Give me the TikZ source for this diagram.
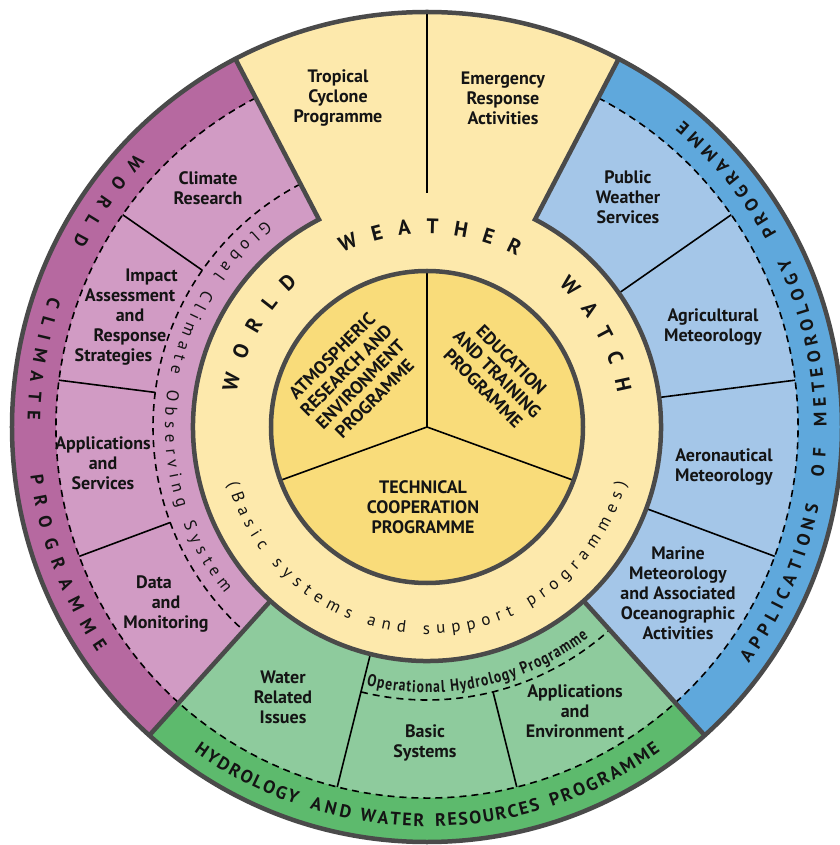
\documentclass[tikz,border=0pt]{standalone}
\usepackage{fontspec}
\setmainfont{PT Sans}
\newfontfamily\narrowfont{PT Sans}[FakeStretch=0.8]
\usetikzlibrary{decorations.text}

\definecolor{wwwcream}{HTML}{FDE9AC}
\definecolor{wwwgold}{HTML}{F9DC7A}
\definecolor{wcpdark}{HTML}{B669A0}
\definecolor{wcplight}{HTML}{D19BC4}
\definecolor{amplight}{HTML}{A4C6E8}
\definecolor{ampdark}{HTML}{5FA8DC}
\definecolor{hwrlight}{HTML}{8ECB9D}
\definecolor{hwrdark}{HTML}{5DBA6D}
\definecolor{rimgray}{HTML}{4A4A4A}
\definecolor{ink}{HTML}{141414}

\newcommand{\lblfont}{\bfseries\fontsize{18}{20}\selectfont}
\newcommand{\corefont}{\bfseries\fontsize{18}{20}\selectfont}
\newcommand{\bandfont}{\bfseries\fontsize{18}{20}\selectfont}
\newcommand{\wwwfont}{\bfseries\fontsize{21}{24}\selectfont}
\newcommand{\ringfont}{\fontsize{17}{18}\selectfont}
\newcommand{\gcosfont}{\fontsize{17}{18}\selectfont}
\newcommand{\ohpfont}{\narrowfont\bfseries\fontsize{17}{18}\selectfont}

% filled ring sector: colour, from, to, inner radius, outer radius
\newcommand{\annsector}[5]{\fill[#1] (#2:#4) -- (#2:#5) arc[start angle=#2,end angle=#3,radius=#5] -- (#3:#4) arc[start angle=#3,end angle=#2,radius=#4] -- cycle;}

% text along an arc: radius, from, to, font, text
\newcommand{\arcword}[5]{\path[decorate,decoration={text along path,text align=fit to path,text color=ink,text={|#4|#5}}] (#2:#1) arc[start angle=#2,end angle=#3,radius=#1];}

\begin{document}
\begin{tikzpicture}[x=1pt,y=1pt,
  rim/.style={draw=rimgray,line width=4.5pt},
  divider/.style={draw=black,line width=1.6pt},
  dashline/.style={draw=black,line width=1.6pt,dash pattern=on 7pt off 5pt},
  sectorlbl/.style={font=\lblfont,align=center,text=ink,inner sep=0pt},
  corelbl/.style={font=\corefont,align=center,text=ink,inner sep=0pt}]
\useasboundingbox (-427,-418) rectangle (412,427);

% fills
\fill[wwwcream] (0,0) circle[radius=234];
\fill[wwwcream] (62.5:234) -- (62.5:415) arc[start angle=62.5,end angle=117.5,radius=415] -- (117.5:234) -- cycle;
\annsector{wcplight}{117.5}{228}{234}{415}
\annsector{wcpdark}{117.5}{228}{371}{415}
\annsector{amplight}{-48}{62.5}{234}{415}
\annsector{ampdark}{-48}{62.5}{371}{415}
\annsector{hwrlight}{228}{312}{234}{415}
\annsector{hwrdark}{228}{312}{371}{415}
\fill[wwwgold] (0,0) circle[radius=156];

% dashed bands
\draw[dashline] (117.5:371) arc[start angle=117.5,end angle=422.5,radius=371];
\draw[dashline] (117.5:274) arc[start angle=117.5,end angle=228,radius=274];
\draw[dashline] (256:273) arc[start angle=256,end angle=312,radius=273];

% dividers
\foreach \a in {145.1,172.75,200.4} \draw[divider] (\a:274) -- (\a:371);
\foreach \a in {34.9,7.25,-20.4} \draw[divider] (\a:234) -- (\a:371);
\draw[divider] (256:234) -- (256:371);
\draw[divider] (284:273) -- (284:371);
\draw[divider] (90:234) -- (90:415);
\foreach \a in {90,200,340} \draw[divider] (0,0) -- (\a:156);

% rims
\draw[rim] (0,0) circle[radius=415];
\draw[rim] (117.5:415) -- (117.5:234) arc[start angle=117.5,end angle=422.5,radius=234] -- (62.5:415);
\draw[rim] (228:234) -- (228:415);
\draw[rim] (312:234) -- (312:415);
\draw[rim] (0,0) circle[radius=156];

% band titles
\arcword{399.5}{136.8}{152.5}{\bandfont}{WORLD}
\arcword{399.5}{161.0}{179.0}{\bandfont}{CLIMATE}
\arcword{399.5}{187.0}{214.4}{\bandfont}{PROGRAMME}
\arcword{399.5}{-36.3}{-11.3}{\bandfont}{APPLICATIONS}
\arcword{399.5}{-7.3}{-3.0}{\bandfont}{OF}
\arcword{399.5}{0.1}{25.1}{\bandfont}{METEOROLOGY}
\arcword{399.5}{28.9}{50.1}{\bandfont}{PROGRAMME}
\arcword{399.5}{234.3}{250.9}{\bandfont}{HYDROLOGY}
\arcword{399.5}{252.9}{258.9}{\bandfont}{AND}
\arcword{399.5}{260.3}{269.6}{\bandfont}{WATER}
\arcword{399.5}{271.2}{286.5}{\bandfont}{RESOURCES}
\arcword{399.5}{288.2}{305.8}{\bandfont}{PROGRAMME}

% world weather watch ring
\arcword{193.5}{169.7}{131.9}{\wwwfont}{WORLD}
\arcword{193.5}{115.9}{62.3}{\wwwfont}{WEATHER}
\arcword{193.5}{47.2}{10.3}{\wwwfont}{WATCH}
\arcword{207}{195.8}{344.2}{\ringfont}{(Basic systems and support programmes)}
\arcword{262}{128}{219.5}{\gcosfont}{Global Climate Observing System}
\arcword{265.5}{256.8}{307.5}{\ohpfont}{Operational Hydrology Programme}

% sector labels
\node[sectorlbl] (tcprog) at (-89,329) {Tropical\\Cyclone\\Programme};
\node[sectorlbl] (eract) at (76,329) {Emergency\\Response\\Activities};
\node[sectorlbl] (clres) at (-219,239) {Climate\\Research};
\node[sectorlbl] (impact) at (-297,110) {Impact\hspace*{-43pt}\\Assessment\hspace*{4pt}\\and\hspace*{-24pt}\\Response\hspace*{19pt}\\Strategies\hspace*{33pt}};
\node[sectorlbl] (appsrv) at (-324,-36) {Applications\\and\\Services};
\node[sectorlbl] (datmon) at (-261,-177) {Data\hspace*{24pt}\\and\\Monitoring};
\node[sectorlbl] (pubws) at (201,230) {Public\\Weather\\Services};
\node[sectorlbl] (agmet) at (286,100) {Agricultural\\Meteorology};
\node[sectorlbl] (aeromet) at (297,-40) {Aeronautical\\Meteorology};
\node[sectorlbl] (marmet) at (251,-166) {Marine\\Meteorology\\and Associated\\Oceanographic\\Activities};
\node[sectorlbl] (water) at (-144,-270) {Water\\Related\\Issues};
\node[sectorlbl] (basic) at (-2,-316) {Basic\\Systems};
\node[sectorlbl] (appenv) at (148,-284) {Applications\\and\\Environment};

% core programmes
\node[corelbl,rotate=45] (arep) at (146:89) {ATMOSPHERIC\\RESEARCH AND\\ENVIRONMENT\\PROGRAMME};
\node[corelbl,rotate=-45] (etp) at (37:88) {EDUCATION\\AND TRAINING\\PROGRAMME};
\node[corelbl] (tcp) at (-4,-80) {TECHNICAL\\COOPERATION\\PROGRAMME};
\end{tikzpicture}
\end{document}
